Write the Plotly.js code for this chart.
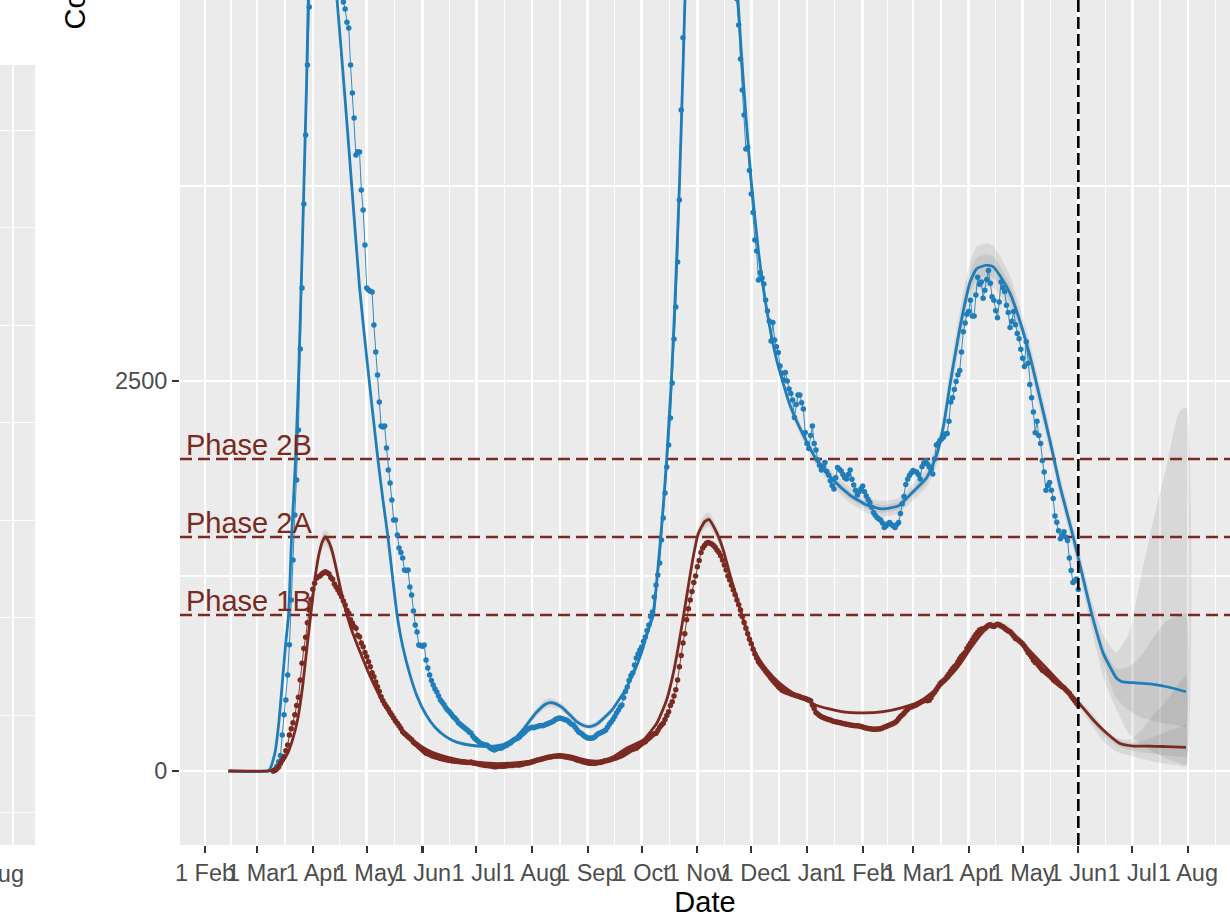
<!DOCTYPE html>
<html><head><meta charset="utf-8">
<script src="https://cdn.plot.ly/plotly-3.0.1.min.js"></script>
<style>
html,body{margin:0;padding:0;width:1230px;height:922px;overflow:hidden;background:#fff;}
#chart{position:absolute;left:-100px;top:-120px;width:1330px;height:1042px;}
</style></head><body><div id="chart"></div><script>
// ---------- DATA (day offsets counted from 2020-02-01) ----------
const obsStartDay = 38; // 2020-03-10, daily values
const blueDaily = [
0,10,30,60,100,230,360,455,615,810,
1096,1352,1641,1865,2186,2705,3096,3634,4077,4525,
4897,5250,5600,5900,6150,6400,6550,6700,6750,6800,
6700,6600,6400,6200,5900,5600,5400,5200,5050,4929,
4884,4800,4763,4525,4346,4186,3949,3970,3968,3724,
3596,3372,3096,3083,3075,3070,2859,2686,2538,2365,
2211,2205,2211,2070,1929,1846,1737,1609,1609,1513,
1429,1400,1365,1288,1285,1288,1180,1128,1026,936,
891,808,805,800,808,711,660,615,580,551,
525,506,480,455,440,425,405,391,380,365,
350,340,327,310,300,290,280,270,263,250,
244,225,210,200,190,180,175,170,167,165,
155,145,140,135,140,150,145,147,155,160,
165,175,180,190,200,205,210,218,230,240,
250,263,270,275,280,278,282,285,290,292,
290,295,300,305,310,314,320,330,335,340,
338,335,330,327,320,310,300,295,280,265,
250,244,235,225,218,212,210,212,212,220,
230,240,244,250,255,263,280,300,314,330,
350,372,390,410,423,470,510,538,580,610,
628,680,724,750,775,795,830,859,900,936,
990,1019,1115,1192,1256,1333,1481,1622,1782,1949,
2090,2263,2487,2769,2974,3263,3660,4237,4700,5000,
5300,5600,5900,6200,6450,6700,6900,7050,7200,7300,
7350,7400,7400,7350,7300,7200,7050,6900,6700,6500,
6300,6100,5900,5700,5500,5350,5200,5050,4950,4782,
4564,4365,4205,3987,3997,3850,3699,3580,3404,3333,
3147,3195,3160,3122,3019,2949,2884,2756,2875,2763,
2720,2683,2596,2550,2506,2554,2500,2449,2420,2378,
2266,2350,2410,2410,2360,2320,2170,2100,2067,2150,
2211,2100,2058,1994,1960,1929,1950,1978,1920,1897,
1860,1830,1808,1880,1945,1935,1923,1900,1880,1872,
1900,1929,1870,1833,1800,1769,1790,1810,1827,1790,
1763,1740,1721,1690,1657,1640,1625,1615,1609,1590,
1561,1570,1585,1593,1580,1570,1561,1580,1593,1650,
1713,1760,1837,1870,1894,1910,1927,1920,1917,1900,
1872,1950,1972,1988,1968,1950,1938,1904,2000,2090,
2100,2118,2130,2141,2160,2163,2242,2365,2393,2445,
2496,2540,2568,2686,2815,2872,2928,2946,3018,2917,
2917,3052,3165,3120,3135,3030,3081,3150,3209,3126,
3040,3018,2950,2906,3007,3135,3100,3074,2985,2939,
2843,2883,2946,2861,2804,2770,2703,2645,2593,2752,
2613,2478,2393,2302,2168,2242,2150,2100,1990,1916,
1799,1830,1849,1800,1747,1635,1594,1540,1488,1510,
1533,1500,1478,1365,1286,1208,1220,1230,1163];
const redDaily = [
0,5,15,28,50,70,92,130,167,231,
270,310,360,420,472,583,690,786,857,951,
1032,1100,1165,1203,1235,1245,1250,1263,1270,1278,
1270,1263,1240,1229,1199,1180,1160,1140,1117,1090,
1064,1030,1011,970,947,925,915,870,861,820,
797,760,733,700,669,630,604,570,540,510,
476,450,430,412,395,375,359,340,320,306,
290,272,252,240,230,220,210,200,185,175,
167,155,145,135,125,113,110,105,100,95,
92,88,85,80,78,75,72,70,68,66,
64,62,62,60,60,58,58,56,55,55,
58,52,50,48,45,42,40,38,36,35,
33,32,30,28,28,30,32,30,30,32,
34,35,35,36,38,40,38,38,42,45,
48,50,52,55,58,62,66,70,72,75,
78,82,85,88,90,92,95,95,96,96,
96,94,92,90,88,85,83,81,75,70,
68,65,60,58,55,52,50,49,49,50,
52,54,55,58,62,65,68,70,74,78,
82,85,90,95,100,106,113,120,128,135,
140,143,146,155,165,175,182,188,200,210,
220,230,238,242,260,280,295,306,330,355,
380,420,444,480,520,583,669,740,820,880,
970,1040,1096,1150,1208,1250,1310,1350,1400,1430,
1445,1460,1465,1460,1455,1445,1433,1415,1401,1380,
1353,1320,1288,1250,1224,1190,1160,1130,1096,1065,
1032,990,952,915,880,845,815,780,750,725,
700,685,670,655,640,625,610,595,580,567,
555,540,530,519,512,508,503,500,495,490,
487,483,480,476,471,468,465,460,455,450,
423,400,375,365,355,348,343,338,333,330,
327,322,318,315,313,311,308,305,303,300,
298,295,293,292,290,290,288,285,282,278,
275,272,270,269,268,268,269,269,270,275,
280,285,290,295,300,305,311,320,335,350,
359,370,385,395,407,410,415,420,425,432,
439,445,450,455,450,454,470,490,505,522,
540,560,570,578,590,605,622,640,655,668,
679,700,720,735,746,760,785,803,820,840,
859,875,890,904,908,912,915,925,935,938,
930,926,935,940,938,930,925,915,905,898,
892,880,865,850,845,835,825,814,800,780,
760,746,730,710,695,690,675,660,645,640,
630,620,611,600,585,575,567,558,548,540,
533,520,510,499,480,465,450,435,420];

// fitted curves: [day, value, ribbon half-width]
const blueFit = [
[13,0,0],[35,0,0],[36.5,20,3],[39,120,6],[41,300,8],[43,560,10],[45,830,12],[46.5,1000,14],[48.2,1500,16],
[50.4,2000,18],[52,2500,20],[54,3300,25],[56.5,4400,30],[58,5200,35],[60,5750,40],[62,5980,40],[64,5960,40],
[66,5780,40],[68,5560,40],[70,5335,40],[72,5110,35],[73.5,4942,35],[78,4300,30],[82,3700,25],[86,3100,22],
[90,2650,20],[93,2330,18],[96.2,2000,16],[99,1740,15],[101.8,1500,14],[104.5,1230,12],[106.9,1000,12],
[110,800,10],[114,620,10],[118,480,10],[123,360,10],[128,280,10],[134,220,10],[140,185,10],[148,165,10],
[155,158,10],[161,160,12],[166,170,14],[172,205,16],[178,280,20],[184,370,25],[189,425,30],[192,438,30],
[195,432,28],[199,405,25],[203,360,22],[207,315,20],[211,290,18],[214,284,18],[218,300,18],[222,340,18],
[226.5,391,18],[230,450,18],[234,519,18],[237,590,18],[240,668,18],[243,760,18],[245.5,861,18],[247.5,930,18],
[249.5,1000,18],[251.5,1230,20],[253.6,1500,20],[255.3,1740,22],[256.9,2000,22],[259.5,2500,25],[261.5,3000,28],
[264,3750,30],[266,4500,35],[268,5300,40],[270,5900,40],[272,6400,40],[275,6900,40],[278,7150,40],[281,7200,40],
[284,7000,40],[287,6600,40],[290,6100,40],[293,5550,40],[295,5200,40],[296.6,4942,40],[298.5,4600,40],
[301,4200,40],[304,3780,40],[307.9,3340,38],[312.6,2955,36],[318.1,2635,35],[325.5,2346,35],[332.9,2154,38],
[340.4,1994,40],[349.6,1865,45],[358.9,1769,50],[368.2,1705,50],[377,1680,50],[386,1700,50],[394,1790,55],
[401.6,1880,60],[407.2,2028,70],[410.9,2208,80],[414.6,2478,95],[418.3,2725,110],[422,2950,120],[425.7,3131,130],
[429.4,3220,140],[435,3243,140],[438.7,3232,135],[442.4,3175,125],[448,3062,110],[453.5,2883,95],[459.1,2658,85],
[464.7,2388,80],[470.2,2118,75],[475.8,1826,70],[483.2,1500,70],[486,1365,75],
[493.6,1000],[499.9,754],[504.6,647],[507.3,594],[510.1,573],[516.6,566],[525.9,558],[535.2,540],[545.9,508]];
const redFit = [
[13,0,0],[35,0,0],[37,5,2],[39.5,20,4],[42.5,51,6],[46,113,8],[48.7,199,10],[51.5,327,15],[54.3,540,20],
[57,818,25],[59.8,1096,35],[61.6,1267,40],[63.5,1395,45],[65.3,1470,50],[66.8,1500,50],[68.5,1478,50],
[70.5,1420,45],[73,1300,40],[75,1190,35],[77,1090,30],[79,1000,25],[81,925,20],[83,860,18],[85,800,15],
[88,715,12],[91,630,10],[95,530,10],[100,420,8],[105,330,8],[110,260,6],[116,195,6],[123,140,5],[130,105,5],
[140,75,5],[150,58,5],[160,48,5],[170,50,5],[180,62,5],[190,85,6],[196,103,6],[200,103,6],[205,92,6],
[210,76,6],[214,66,6],[218,63,6],[222,70,6],[226.7,88,6],[234.6,146,8],[243.9,199,10],[251.4,306,12],
[256.9,455,15],[260.6,626,18],[263.4,797,20],[266.2,989,25],[268.9,1181,30],[271.7,1374,35],[274.5,1523,40],
[278.2,1600,45],[280.5,1612,45],[284.7,1529,40],[288.4,1417,35],[292.2,1256,30],[295.9,1112,25],[299.6,968,20],
[303.3,840,18],[307,744,15],[312.6,650,12],[320,560,10],[329.3,485,10],[340.4,420,10],[353.4,382,10],
[366.3,372,10],[377.5,380,10],[388.6,408,10],[397.9,445,12],[409,544,15],[418.3,656,18],[425.7,780,20],
[431.3,870,22],[436.8,931,25],[440.6,938,25],[446.1,915,25],[451.7,859,22],[459.1,769,20],[466.5,679,18],
[474,589,15],[481.4,499,12],[486,440,10],
[494.3,327],[501.8,242],[509.2,176],[516.6,160],[525.9,160],[535.2,156],[545.9,151]];

// projection ribbons after 1 Jun 2021
const fcDay    = [486,493,500,507,514,521,528,535,542,546];
const blue95Hi = [1440,1110,870,760,880,1250,1620,1950,2300,2330];
const blue95Lo = [1290,930,600,400,240,170,120,80,50,38];
const blue50Hi = [1400,1070,800,657,665,740,860,960,1000,1010];
const blue50Lo = [1330,990,690,470,390,345,320,304,292,284];
const red95Hi  = [460,380,280,215,200,260,360,450,560,615];
const red95Lo  = [420,300,190,125,100,80,60,45,35,28];
const red50Hi  = [450,365,270,205,180,190,220,250,280,300];
const red50Lo  = [430,325,230,165,135,120,110,100,92,90];

const phaseLevels = [1000,1500,2000];
const phaseLabels = ['Phase 1B','Phase 2A','Phase 2B'];
const cutoffDate = '2021-06-01';
const monthTickLabels = ['1 Feb','1 Mar','1 Apr','1 May','1 Jun','1 Jul','1 Aug','1 Sep','1 Oct','1 Nov','1 Dec',
  '1 Jan','1 Feb','1 Mar','1 Apr','1 May','1 Jun','1 Jul','1 Aug'];
const yTickVals = [0,2500,5000];
const yTickText = ['0','2500','5000'];

// ---------- helpers ----------
const BLUE = '#1F7EBA', RED = '#7A2A21';
const T0 = Date.UTC(2020,1,1);
function d2s(d){ return new Date(T0 + d*86400000).toISOString().replace('T',' ').slice(0,19); }
const xRange = [d2s(-13.91), d2s(570.4)];
const blueX = blueDaily.map((v,i)=>d2s(obsStartDay+i));
const redX  = redDaily.map((v,i)=>d2s(obsStartDay+i));

function band(days, lo, hi, color){
  const x = days.map(d2s);
  return {x: x.concat(x.slice().reverse()), y: hi.concat(lo.slice().reverse()),
    type:'scatter', mode:'lines', fill:'toself', fillcolor:color,
    line:{width:0, shape:'spline', smoothing:0.5}, hoverinfo:'skip', showlegend:false};
}
function histBand(fit, k, color){
  const pts = fit.filter(p=>p.length>2);
  return band(pts.map(p=>p[0]), pts.map(p=>p[1]-p[2]*k), pts.map(p=>p[1]+p[2]*k), color);
}
const G = 'rgba(95,95,95,0.13)';

const traces = [
  histBand(blueFit,1,G), histBand(blueFit,0.5,G),
  histBand(redFit,1,G), histBand(redFit,0.5,G),
  band(fcDay, blue95Lo, blue95Hi, G), band(fcDay, blue50Lo, blue50Hi, G),
  band(fcDay, red95Lo, red95Hi, G), band(fcDay, red50Lo, red50Hi, G)
];
phaseLevels.forEach(v=>traces.push({x:xRange, y:[v,v], type:'scatter', mode:'lines',
  line:{color:RED, width:2.6, dash:'12px,6px'}, hoverinfo:'skip'}));
traces.push(
  {x: blueX, y: blueDaily, type:'scatter', mode:'lines+markers', line:{color:BLUE, width:0.9},
   marker:{color:BLUE, size:5.5}, hoverinfo:'skip'},
  {x: redX, y: redDaily, type:'scatter', mode:'lines+markers', line:{color:RED, width:0.9},
   marker:{color:RED, size:5.5}, hoverinfo:'skip'},
  {x: blueFit.map(p=>d2s(p[0])), y: blueFit.map(p=>p[1]), type:'scatter', mode:'lines',
   line:{color:BLUE, width:2.8, shape:'spline', smoothing:0.5}, hoverinfo:'skip'},
  {x: redFit.map(p=>d2s(p[0])), y: redFit.map(p=>p[1]), type:'scatter', mode:'lines',
   line:{color:RED, width:2.8, shape:'spline', smoothing:0.5}, hoverinfo:'skip'},
  {x:[], y:[], xaxis:'x2', yaxis:'y2', type:'scatter', hoverinfo:'skip'}
);

// month ticks
const tickVals = [], minorVals = [];
for (let i=0;i<monthTickLabels.length;i++){
  tickVals.push(new Date(Date.UTC(2020,1+i,1)).toISOString().slice(0,10));
  const a = Date.UTC(2020,1+i,1), b = Date.UTC(2020,2+i,1);
  minorVals.push(new Date((a+b)/2).toISOString().replace('T',' ').slice(0,19));
}

const shapes = [{type:'line', xref:'x', x0:cutoffDate, x1:cutoffDate, yref:'y domain', y0:0, y1:1,
  line:{color:'black', width:2.6, dash:'12px,5px'}, layer:'above'}];

const annotations = phaseLevels.map((v,i)=>({xref:'x domain', x:0.004, xanchor:'left', yref:'y', y:v,
  yanchor:'bottom', yshift:-4, text:phaseLabels[i], showarrow:false, font:{size:29, color:RED}}));
annotations.push({xref:'paper', x:175/1330, yref:'paper', y:0.8937, text:'Count', textangle:-90,
  showarrow:false, xanchor:'center', yanchor:'middle', font:{size:29, color:'black'}});

const layout = {
  width:1330, height:1042, margin:{l:0, r:0, t:10, b:77},
  paper_bgcolor:'white', plot_bgcolor:'#EBEBEB', showlegend:false,
  font:{family:'"Liberation Sans", Arial, sans-serif', color:'#4D4D4D'},
  xaxis:{type:'date', domain:[280/1330,1], anchor:'y', range:xRange,
    tickmode:'array', tickvals:tickVals, ticktext:monthTickLabels, tickangle:0, ticklabelstandoff:0,
    ticks:'outside', ticklen:7, tickwidth:2.2, tickcolor:'#333333',
    tickfont:{size:23.5, color:'#4D4D4D'}, showgrid:true, gridcolor:'white', gridwidth:2.6,
    minor:{tickmode:'array', tickvals:minorVals, showgrid:true, gridcolor:'white', gridwidth:1.3, ticks:''},
    zeroline:false, showline:false,
    title:{text:'Date', font:{size:29, color:'black'}, standoff:5}},
  yaxis:{domain:[0,1], anchor:'x', range:[-474.4,5647.4], tickmode:'array', tickvals:yTickVals, ticktext:yTickText,
    ticks:'outside', ticklen:7, tickwidth:2.2, tickcolor:'#333333',
    tickfont:{size:23.5, color:'#4D4D4D'}, showgrid:true, gridcolor:'white', gridwidth:2.6,
    minor:{tickmode:'array', tickvals:[-1250,1250,3750], showgrid:true, gridcolor:'white', gridwidth:1.3, ticks:''},
    zeroline:false, showline:false},
  xaxis2:{domain:[0,135/1330], anchor:'y2', range:[0,1], tickmode:'array', tickvals:[0.696], ticktext:['1 Aug'],
    tickangle:0, ticks:'', ticklabelstandoff:12, tickfont:{size:23.5, color:'#4D4D4D'}, showgrid:false,
    minor:{tickmode:'array', tickvals:[0.837], showgrid:true, gridcolor:'white', gridwidth:1.3, ticks:''},
    zeroline:false, showline:false},
  yaxis2:{domain:[0,0.8168], anchor:'x2', range:[-0.33,7.67], tick0:0, dtick:1, showticklabels:false, ticks:'',
    showgrid:true, gridcolor:'white', gridwidth:1.3, zeroline:false, showline:false},
  shapes:shapes, annotations:annotations
};
Plotly.newPlot('chart', traces, layout, {staticPlot:true, displayModeBar:false});
</script></body></html>
